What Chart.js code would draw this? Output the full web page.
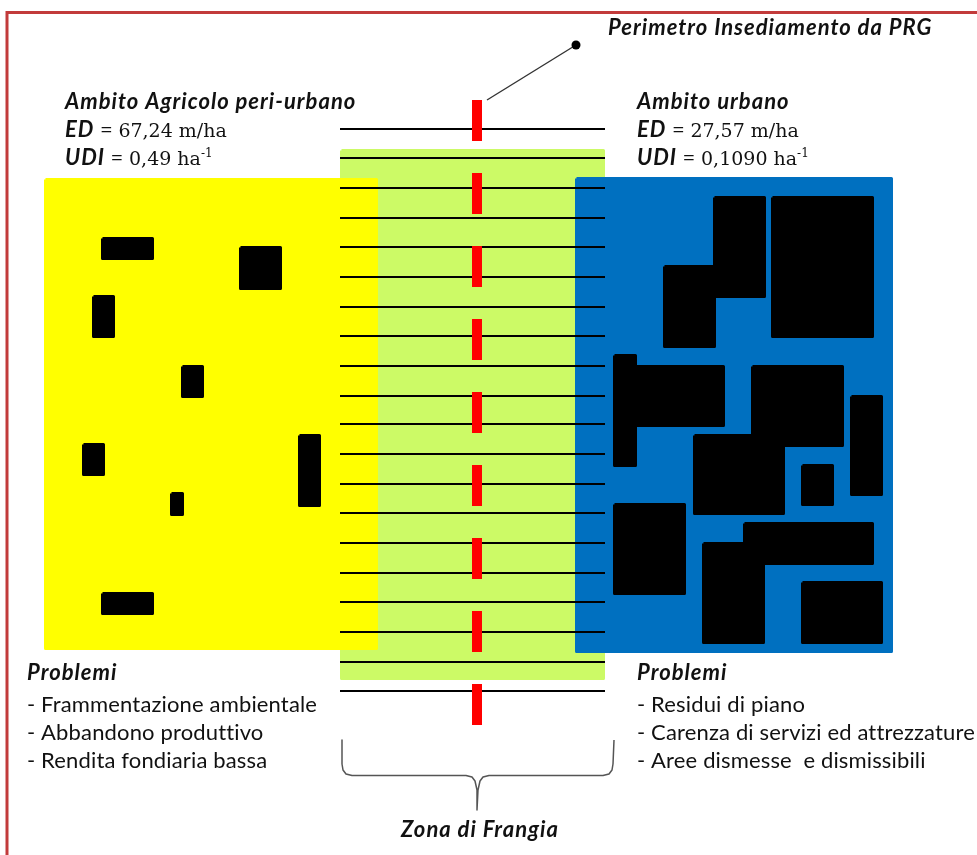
<!DOCTYPE html>
<html>
<head>
<meta charset="utf-8">
<title>Zona di Frangia</title>
<script src="https://cdn.jsdelivr.net/npm/chart.js@4.4.0/dist/chart.umd.min.js"></script>
<style>
  html, body { margin: 0; padding: 0; background: #fff; }
</style>
</head>
<body>
<canvas id="diagram" width="977" height="855"></canvas>
<script>
// diagram units = pixels of the original figure (y grows downwards)
const zoneNames = ['Zona di Frangia', 'Ambito Agricolo', 'Ambito urbano'];
const zoneX0 = [340, 44, 575];
const zoneX1 = [605, 378, 893];
const zoneY0 = [149, 178, 177];
const zoneY1 = [680, 650, 653];
const zoneColors = ['#ccfa66', '#ffff00', '#0070c0'];

// edifici [x0, y0, x1, y1]
const agriBuildings = [
    [101, 237, 154, 260], [239, 246, 282, 290], [92, 295, 115, 338], [181, 365, 204, 398],
    [82, 443, 105, 476], [298, 434, 321, 507], [170, 492, 184, 516], [101, 592, 154, 615]
];
const urbanBuildings = [
    [713, 196, 766, 298], [663, 265, 716, 348], [771, 196, 874, 338], [613, 354, 637, 467],
    [632, 365, 725, 427], [751, 365, 844, 447], [693, 434, 785, 515], [850, 395, 883, 496],
    [801, 464, 834, 506], [613, 503, 686, 595], [743, 522, 874, 565], [702, 542, 765, 644],
    [801, 581, 883, 644]
];

// linee della zona di frangia
const fringeLineY = [129, 158, 188, 218, 247, 277, 307, 336, 366, 396, 424, 454, 484, 513, 543, 573, 602, 632, 662, 691];
const fringeLineX = [340, 605];

// perimetro PRG (tratteggio rosso)
const prgX = 477;
const prgY = [100, 726];
const prgDash = [41, 32];
const pointerX = [487, 576];
const pointerY = [100, 45];

// graffa "Zona di Frangia"
const braceX = [342, 342, 343, 346, 352, 466, 472, 475, 477, 477, 478, 480, 483, 489, 603, 609, 612, 613, 614];
const braceY = [740, 764, 770, 774, 775.5, 775.5, 777, 781, 790, 810, 790, 781, 777, 775.5, 775.5, 774, 770, 764, 740];

// cornice
const frameX = [7, 7, 977];
const frameY = [855, 12.5, 12.5];

const ambitoTitles = ['Ambito Agricolo peri-urbano', 'Ambito urbano'];
const edValues = ['67,24', '27,57'];
const udiValues = ['0,49', '0,1090'];
const problemiAgricolo = ['- Frammentazione ambientale', '- Abbandono produttivo', '- Rendita fondiaria bassa'];
const problemiUrbano = ['- Residui di piano', '- Carenza di servizi ed attrezzature', '- Aree dismesse  e dismissibili'];
const prgLabel = 'Perimetro Insediamento da PRG';
const frangiaLabel = 'Zona di Frangia';

const SANS = 'Lato, "Open Sans", sans-serif';
const SERIF = '"DejaVu Serif", serif';

function polyline(xs, ys, color, width, order, extra) {
    return Object.assign({
        data: xs.map((x, i) => ({ x: x, y: ys[i] })),
        showLine: true,
        borderColor: color,
        borderWidth: width,
        pointRadius: 0,
        pointHoverRadius: 0,
        fill: false,
        tension: 0,
        order: order
    }, extra || {});
}

// filled box; a round-joined border of the same colour gives the soft corners
function rect(b, color, order) {
    const r = 1.5;
    const x0 = b[0] + r, x1 = b[2] - r, y0 = b[1] + r, y1 = b[3] - r;
    return polyline([x0, x1, x1, x0, x0], [y0, y0, y1, y1, y0], color, 2 * r, order,
        { fill: 'shape', backgroundColor: color, borderJoinStyle: 'round' });
}

const datasets = [];
// frangia under the two ambiti
datasets.push(rect([zoneX0[0], zoneY0[0], zoneX1[0], zoneY1[0]], zoneColors[0], 10));
for (let i = 1; i < zoneNames.length; i++) {
    datasets.push(rect([zoneX0[i], zoneY0[i], zoneX1[i], zoneY1[i]], zoneColors[i], 9));
}
agriBuildings.concat(urbanBuildings).forEach(b => datasets.push(rect(b, '#000000', 8)));
fringeLineY.forEach(y => datasets.push(polyline(fringeLineX, [y, y], '#000000', 2.2, 7)));
datasets.push(polyline([prgX, prgX], prgY, '#ff0000', 10, 6, { borderDash: prgDash, borderCapStyle: 'butt' }));
datasets.push(polyline(pointerX, pointerY, '#333333', 1.4, 5));
datasets.push({ data: [{ x: pointerX[1], y: pointerY[1] }], pointRadius: 4.5, pointBackgroundColor: '#000', pointBorderWidth: 0, order: 4 });
datasets.push(polyline(braceX, braceY, '#555555', 1.5, 5, { borderJoinStyle: 'round' }));
datasets.push(polyline(frameX, frameY, '#c23b3b', 3, 5));

function drawRuns(ctx, x, y, runs) {
    runs.forEach(r => {
        ctx.font = r.f;
        ctx.letterSpacing = r.s || '0px';
        ctx.fillText(r.t, x, y - (r.rise || 0));
        x += ctx.measureText(r.t).width;
    });
}

const textPlugin = {
    id: 'labels',
    afterDatasetsDraw(chart) {
        const ctx = chart.ctx;
        const xs = chart.scales.x, ys = chart.scales.y;
        const bi = 'italic bold 22px ' + SANS, biS = '1px';
        const reg = '22px ' + SANS, regS = '0.15px';
        const ser = '19px ' + SERIF;
        const sup = '12px ' + SERIF;
        ctx.save();
        ctx.fillStyle = '#111';
        ctx.textBaseline = 'alphabetic';
        ctx.textAlign = 'left';
        [65, 637].forEach((x0, k) => {
            const px = xs.getPixelForValue(x0);
            drawRuns(ctx, px, ys.getPixelForValue(109), [{ t: ambitoTitles[k], f: bi, s: biS }]);
            drawRuns(ctx, px, ys.getPixelForValue(137), [
                { t: 'ED', f: bi, s: biS }, { t: ' = ', f: reg }, { t: edValues[k] + ' m/ha', f: ser }]);
            drawRuns(ctx, px, ys.getPixelForValue(165), [
                { t: 'UDI', f: bi, s: biS }, { t: ' = ', f: reg }, { t: udiValues[k] + ' ha', f: ser },
                { t: '-1', f: sup, rise: 8 }]);
        });
        [[27, problemiAgricolo], [637, problemiUrbano]].forEach(([x0, items]) => {
            const px = xs.getPixelForValue(x0);
            drawRuns(ctx, px, ys.getPixelForValue(680), [{ t: 'Problemi', f: bi, s: biS }]);
            items.forEach((t, i) => drawRuns(ctx, px, ys.getPixelForValue(712 + i * 28), [{ t: t, f: reg, s: regS }]));
        });
        drawRuns(ctx, xs.getPixelForValue(608), ys.getPixelForValue(35), [{ t: prgLabel, f: bi, s: biS }]);
        ctx.font = bi;
        ctx.letterSpacing = biS;
        ctx.textAlign = 'center';
        ctx.fillText(frangiaLabel, xs.getPixelForValue(480), ys.getPixelForValue(837));
        ctx.restore();
    }
};

new Chart(document.getElementById('diagram'), {
    type: 'scatter',
    data: { datasets: datasets },
    options: {
        responsive: false,
        animation: false,
        devicePixelRatio: 1,
        layout: { padding: 0, autoPadding: false },
        scales: {
            x: { type: 'linear', min: 0, max: 977, display: false },
            y: { type: 'linear', min: 0, max: 855, reverse: true, display: false }
        },
        plugins: { legend: { display: false }, tooltip: { enabled: false } },
        events: []
    },
    plugins: [textPlugin]
});
</script>
</body>
</html>
